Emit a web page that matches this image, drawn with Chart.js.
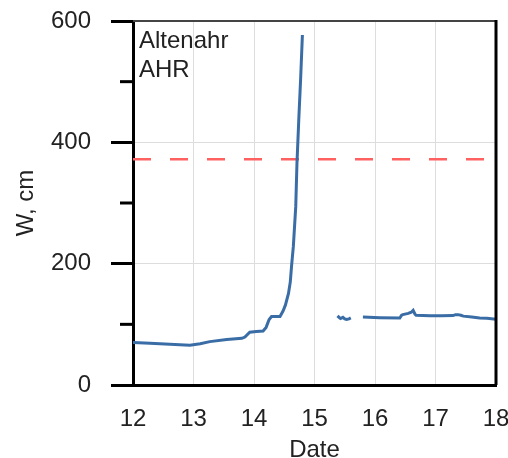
<!DOCTYPE html>
<html>
<head>
<meta charset="utf-8">
<script src="https://cdn.jsdelivr.net/npm/chart.js@4/dist/chart.umd.min.js"></script>
<style>
  html, body { margin: 0; padding: 0; background: #fff; }
  canvas { display: block; }
</style>
</head>
<body>
<canvas id="chart" width="508" height="458"></canvas>
<script>
// Dias (julio) y nivel del agua W en cm, null = sin datos
const days = [
  12.00, 12.28, 12.61, 12.94, 13.11, 13.27, 13.55, 13.80, 13.85, 13.93,
  14.04, 14.15, 14.20, 14.25, 14.29, 14.43, 14.48, 14.52, 14.57, 14.60,
  14.62, 14.65, 14.69, 14.71, 14.74, 14.77, 14.80,
  15.00,
  15.38, 15.41, 15.43, 15.47, 15.50, 15.53, 15.57, 15.60,
  15.70,
  15.80, 16.08, 16.41, 16.44, 16.46, 16.55, 16.60, 16.63, 16.66, 16.68,
  16.91, 17.10, 17.29, 17.33, 17.37, 17.42, 17.46, 17.60, 17.73, 17.85, 18.00
];
const waterLevel = [
  70, 69, 67, 65.5, 68, 71.5, 75, 77, 79, 87,
  88, 89, 95, 108, 113, 113, 122, 132, 151, 170,
  195, 228, 294, 365, 437, 503, 577,
  null,
  114, 111, 109.5, 111.5, 109, 108, 109, 110.5,
  null,
  112, 111, 110.5, 115, 116, 118, 120, 123, 117, 115,
  114, 114, 114.5, 116, 116, 115, 113.5, 112, 110.5, 110, 108.5
];
// Nivel de alerta (linea roja discontinua)
const alertDays = [12, 18];
const alertLevel = [372, 372];

const xTicks = { min: 12, max: 18, step: 1 };
const yTicks = { min: 0, max: 600, step: 200 };
const minorYTicks = [100, 300, 500];
const stationLabel = ['Altenahr', 'AHR'];

const FONT = 'Liberation Sans, Arial, sans-serif';

const levelPoints = days.map((d, i) => ({ x: d, y: waterLevel[i] }));
const alertPoints = alertDays.map((d, i) => ({ x: d, y: alertLevel[i] }));

// Marco, ticks menores y etiqueta de la estacion
const frameAndNotes = {
  id: 'frameAndNotes',
  afterDraw(chart) {
    const ctx = chart.ctx;
    const area = chart.chartArea;
    const yScale = chart.scales.y;
    ctx.save();

    // borde superior
    ctx.strokeStyle = '#444';
    ctx.lineWidth = 2;
    ctx.beginPath();
    ctx.moveTo(area.left, area.top);
    ctx.lineTo(area.right, area.top);
    ctx.stroke();

    // borde derecho
    ctx.strokeStyle = '#000';
    ctx.lineWidth = 3;
    ctx.beginPath();
    ctx.moveTo(area.right, area.top - 1);
    ctx.lineTo(area.right, area.bottom);
    ctx.stroke();

    // ticks menores
    minorYTicks.forEach(v => {
      const py = yScale.getPixelForValue(v);
      ctx.beginPath();
      ctx.moveTo(area.left - 13, py);
      ctx.lineTo(area.left, py);
      ctx.stroke();
    });

    // texto de la estacion
    ctx.fillStyle = '#222';
    ctx.font = '24px ' + FONT;
    ctx.textAlign = 'left';
    ctx.textBaseline = 'alphabetic';
    stationLabel.forEach((t, i) => {
      ctx.fillText(t, area.left + 6, area.top + 27 + i * 29);
    });
    ctx.restore();
  }
};

new Chart(document.getElementById('chart'), {
  type: 'line',
  data: {
    datasets: [
      {
        label: 'W',
        data: levelPoints,
        borderColor: '#3a6da5',
        borderWidth: 3,
        pointRadius: 0,
        tension: 0,
        spanGaps: false
      },
      {
        label: 'Alerta',
        data: alertPoints,
        borderColor: '#ff6060',
        borderWidth: 2.5,
        borderDash: [18, 19],
        pointRadius: 0
      }
    ]
  },
  options: {
    responsive: false,
    animation: false,
    devicePixelRatio: 1,
    layout: { padding: { top: 21, right: 12, left: 0, bottom: 0 } },
    plugins: {
      legend: { display: false },
      tooltip: { enabled: false }
    },
    scales: {
      x: {
        type: 'linear',
        min: xTicks.min,
        max: xTicks.max,
        afterFit: scale => {
          scale.height = 73;
          scale.paddingLeft = 0;
          scale.paddingRight = 0;
        },
        ticks: {
          stepSize: xTicks.step,
          color: '#222',
          font: { family: FONT, size: 24 },
          padding: 20
        },
        grid: {
          color: '#dddddd',
          lineWidth: 1,
          drawTicks: false
        },
        border: { color: '#000', width: 3 },
        title: {
          display: true,
          text: 'Date',
          color: '#222',
          font: { family: FONT, size: 24 },
          padding: { top: 0, bottom: -7 }
        }
      },
      y: {
        min: yTicks.min,
        max: yTicks.max,
        afterFit: scale => {
          scale.width = 133;
          scale.paddingTop = 0;
          scale.paddingBottom = 0;
        },
        ticks: {
          stepSize: yTicks.step,
          color: '#222',
          font: { family: FONT, size: 24 },
          padding: 20
        },
        grid: {
          color: '#dddddd',
          lineWidth: 1,
          tickLength: 22,
          tickColor: '#000',
          tickWidth: 3
        },
        border: { color: '#000', width: 3 },
        title: {
          display: true,
          text: 'W, cm',
          color: '#222',
          font: { family: FONT, size: 24 },
          padding: { top: 12, bottom: 0 }
        }
      }
    }
  },
  plugins: [frameAndNotes]
});
</script>
</body>
</html>
